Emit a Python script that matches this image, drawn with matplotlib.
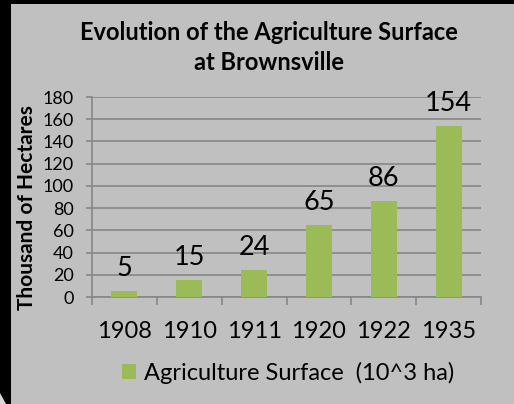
import matplotlib
matplotlib.use("Agg")
import matplotlib.pyplot as plt
from matplotlib.patches import Rectangle, Polygon

years = ["1908", "1910", "1911", "1920", "1922", "1935"]
values = [5, 15, 24, 65, 86, 154]
series_name = "Agriculture Surface  (10^3 ha)"
yticks = [0, 20, 40, 60, 80, 100, 120, 140, 160, 180]

W, H = 514, 404
DPI = 100
BG = "#c0c0c0"
GREEN = "#9bbb59"
GRID = "#878787"
FONT = "Lato"

plt.rcParams["font.family"] = [FONT, "DejaVu Sans"]

fig = plt.figure(figsize=(W / DPI, H / DPI), dpi=DPI, facecolor=BG)

# black frame edges
fig.patches.append(Rectangle((0, 1 - 4 / H), 1, 4 / H, transform=fig.transFigure,
                             facecolor="black", edgecolor="none", zorder=0))
fig.patches.append(Rectangle((0, 0), 11 / W, 1, transform=fig.transFigure,
                             facecolor="black", edgecolor="none", zorder=0))
fig.patches.append(Polygon([(0, 0), (6 / W, 0), (0, 11 / H)], closed=True,
                           transform=fig.transFigure, facecolor="#d8d8d8",
                           edgecolor="none", zorder=1))

ax = fig.add_axes([92 / W, 1 - 297 / H, (481 - 92) / W, (297 - 97) / H])
ax.set_facecolor(BG)

x = list(range(len(years)))
bars = ax.bar(x, values, width=0.4, color=GREEN, label=series_name, zorder=3)

for xi, v in zip(x, values):
    ax.annotate(str(v), (xi, v), xytext=(0, 10.8), textcoords="offset points",
                ha="center", va="baseline", fontsize=19.5, color="black", zorder=4)

ax.set_xlim(-0.5, len(years) - 0.5)
ax.set_ylim(0, 180)
ax.set_yticks(yticks)
ax.set_yticklabels([str(t) for t in yticks], fontsize=13)
ax.grid(axis="y", color=GRID, linewidth=1.2, zorder=0)
ax.set_axisbelow(True)

ax.set_xticks(x)
ax.set_xticklabels(years, fontsize=17)
ax.set_xticks([i - 0.5 for i in range(len(years) + 1)], minor=True)
ax.tick_params(axis="x", which="major", length=0, pad=17)
ax.tick_params(axis="x", which="minor", length=5.8, width=1.2, color=GRID)
ax.tick_params(axis="y", length=4.3, width=1.2, color=GRID, pad=9)

for s in ["top", "right"]:
    ax.spines[s].set_visible(False)
for s in ["left", "bottom"]:
    ax.spines[s].set_color(GRID)
    ax.spines[s].set_linewidth(1.2)

fig.text(269 / W, 1 - 40 / H, "Evolution of the Agriculture Surface", ha="center",
         va="baseline", fontsize=17, fontweight="bold")
fig.text(269 / W, 1 - 70 / H, "at Brownsville", ha="center",
         va="baseline", fontsize=17, fontweight="bold")
fig.text(27 / W, 1 - 208 / H, "Thousand of Hectares", ha="center", va="center",
         rotation=90, fontsize=15, fontweight="bold")

fig.legend(handles=[bars], labels=[series_name], loc="center",
           bbox_to_anchor=(288 / W, 1 - 373 / H), frameon=False, fontsize=17,
           handlelength=0.6, handleheight=0.6, handletextpad=0.34)

fig.savefig("out.png", dpi=DPI, facecolor=BG)
